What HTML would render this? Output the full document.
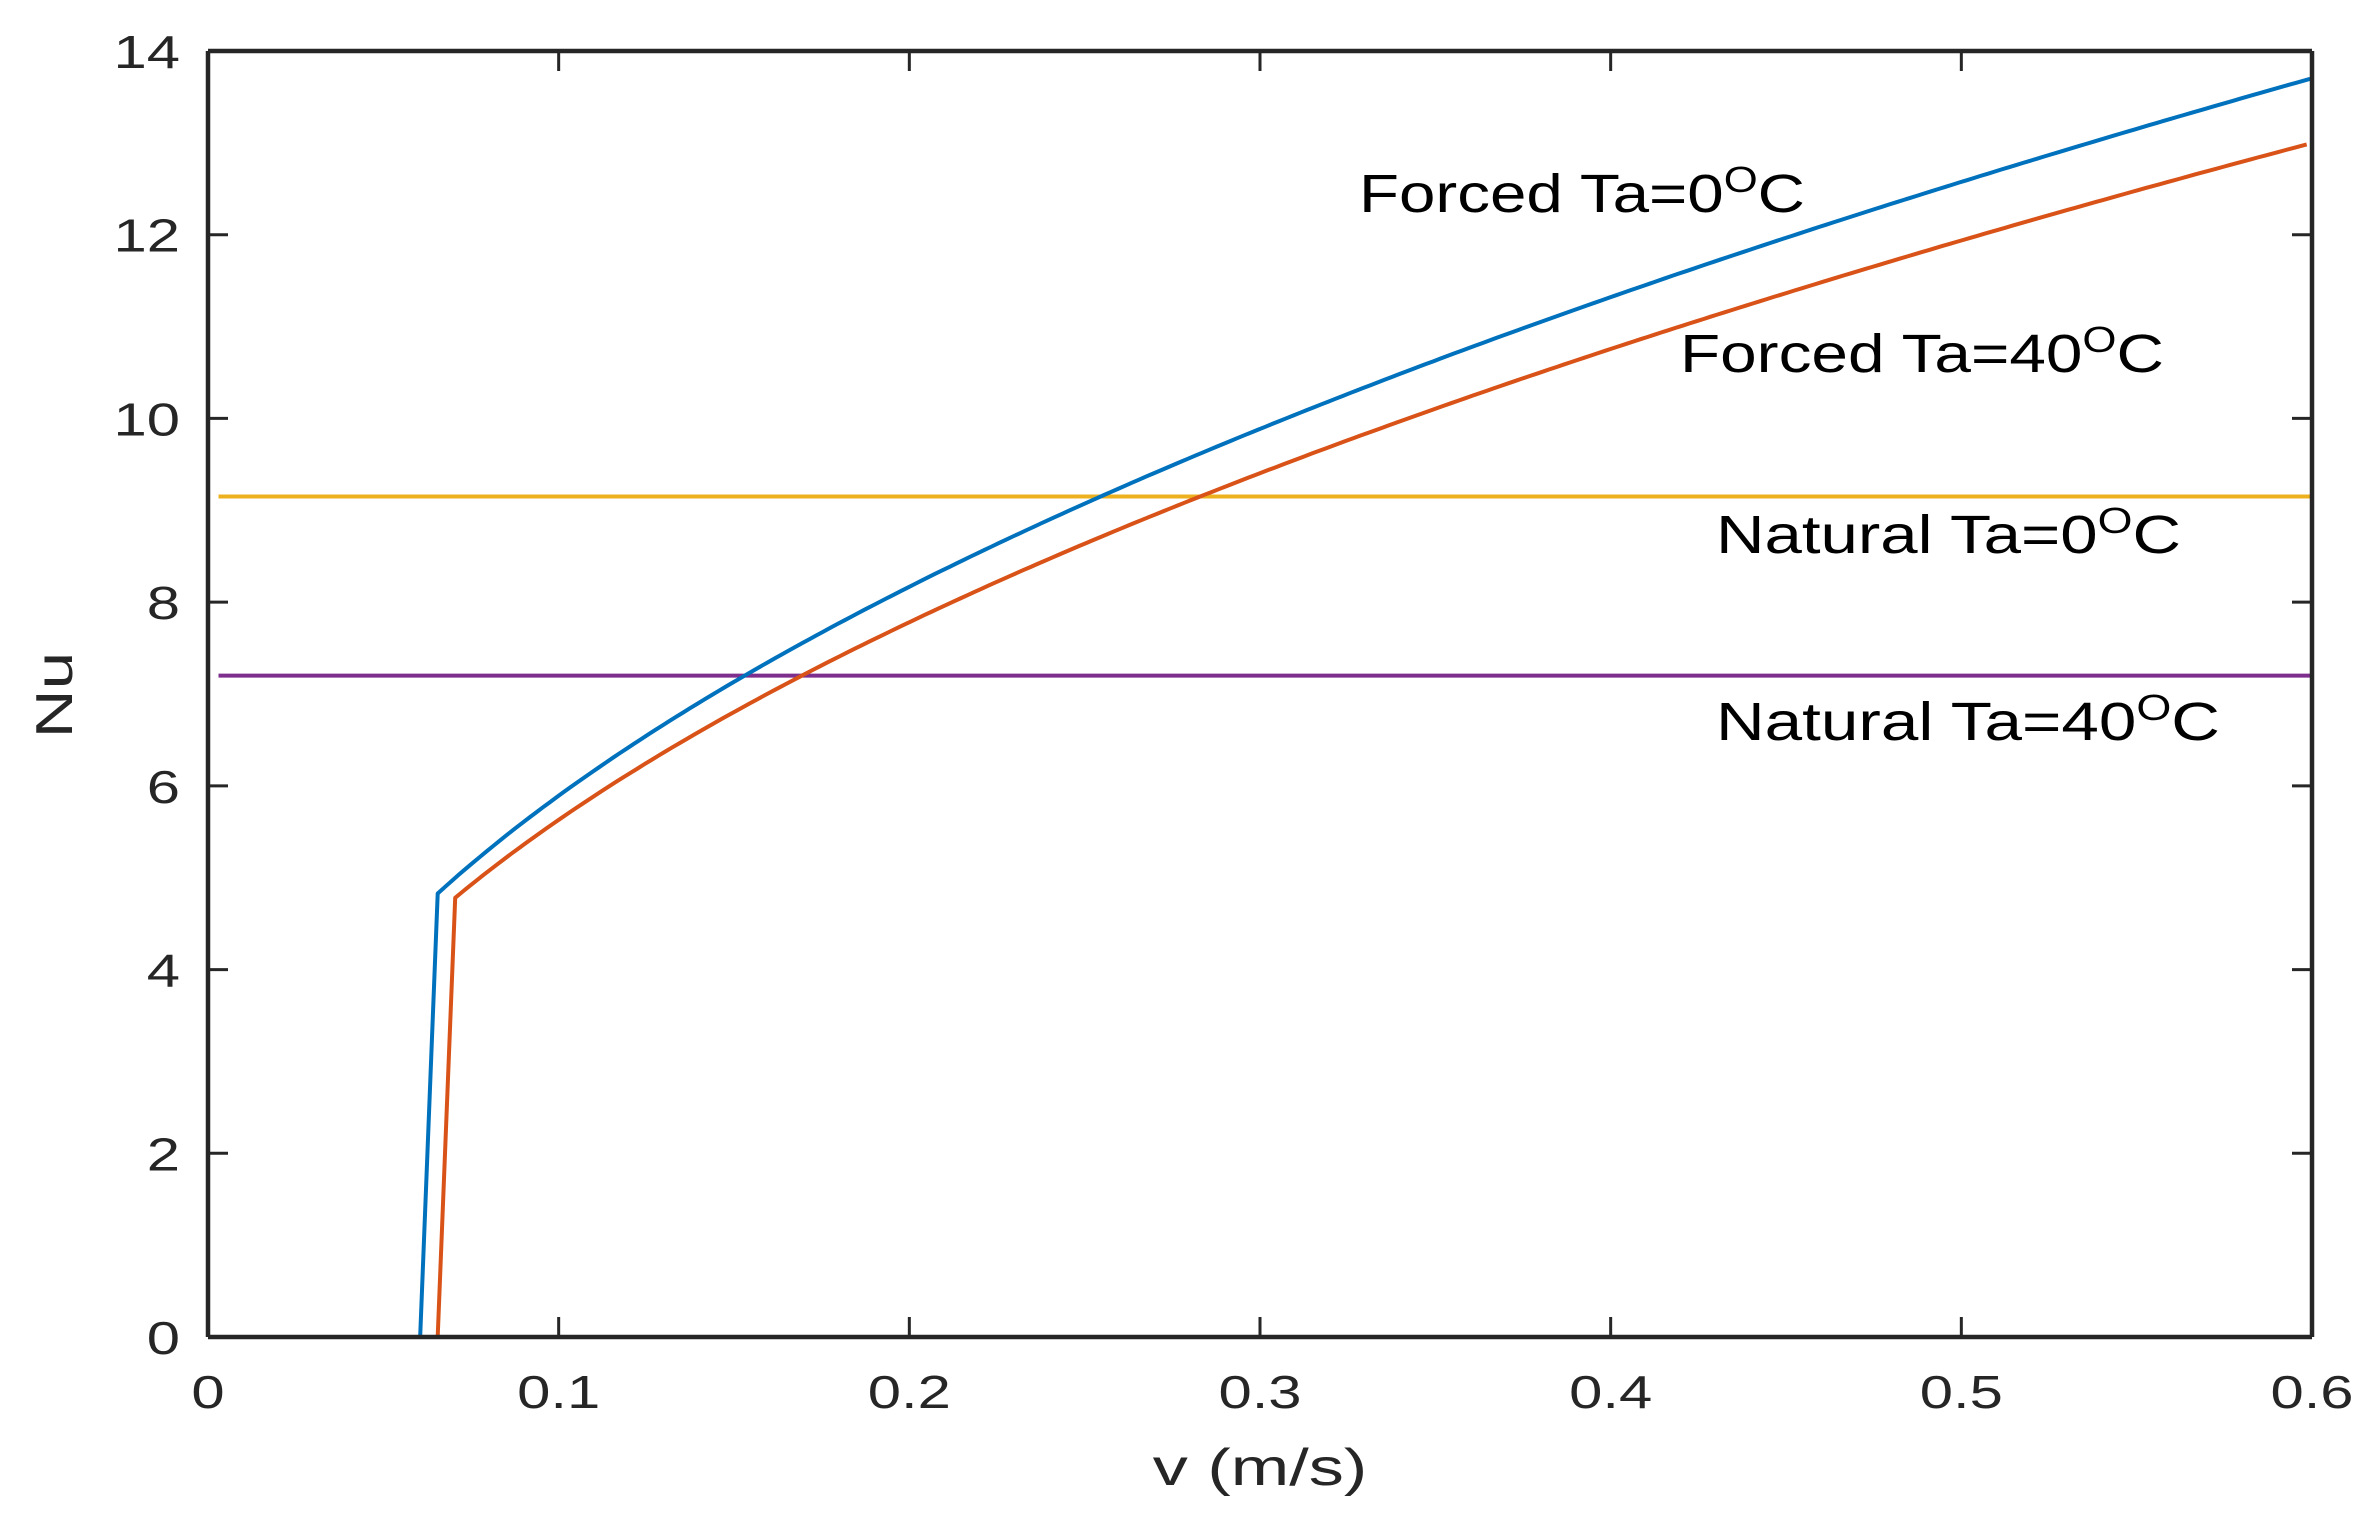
<!DOCTYPE html>
<html><head><meta charset="utf-8"><style>html,body{margin:0;padding:0;background:#fff}svg{display:block}</style></head>
<body>
<svg width="2370" height="1528" viewBox="0 0 2370 1528" xmlns="http://www.w3.org/2000/svg">
<rect width="2370" height="1528" fill="#fff"/>
<g id="curves" fill="none" stroke-width="4" stroke-linejoin="round"></g>
<line x1="208" y1="1337" x2="2312" y2="1337" stroke="#262626" stroke-width="4.5"/>
<line x1="208" y1="51" x2="208" y2="1337" stroke="#262626" stroke-width="4.5"/>
<line x1="208" y1="51" x2="2312" y2="51" stroke="#262626" stroke-width="4.5"/>
<line x1="2312" y1="51" x2="2312" y2="1337" stroke="#262626" stroke-width="4.5"/>
<g id="ticks" stroke="#262626" stroke-width="3"></g>
<g id="labels" font-family="Liberation Sans, sans-serif" font-size="46" fill="#262626"></g>
<text transform="translate(1260,1485) scale(1.35,1)" font-family="Liberation Sans, sans-serif" font-size="52" fill="#262626" text-anchor="middle">v (m/s)</text>
<text transform="translate(72,695) rotate(-90) scale(1.3,1)" font-family="Liberation Sans, sans-serif" font-size="52" fill="#262626" text-anchor="middle">Nu</text>
<g font-family="Liberation Sans, DejaVu Sans, sans-serif" font-size="54" fill="#000">
<text x="1359" y="212" textLength="446" lengthAdjust="spacingAndGlyphs">Forced Ta=0<tspan font-size="36" dy="-20">O</tspan><tspan dy="20">C</tspan></text>
<text x="1680" y="372" textLength="484" lengthAdjust="spacingAndGlyphs">Forced Ta=40<tspan font-size="36" dy="-20">O</tspan><tspan dy="20">C</tspan></text>
<text x="1716" y="553" textLength="465" lengthAdjust="spacingAndGlyphs">Natural Ta=0<tspan font-size="36" dy="-20">O</tspan><tspan dy="20">C</tspan></text>
<text x="1716" y="740" textLength="504" lengthAdjust="spacingAndGlyphs">Natural Ta=40<tspan font-size="36" dy="-20">O</tspan><tspan dy="20">C</tspan></text>
</g>
<script>
var L=208,R=2312,T=51,B=1337,U=(B-T)/14;
function X(v){return L+(R-L)*v/0.6}
function Y(n){return B-n*U}
var ns="http://www.w3.org/2000/svg";
function path(d,c,p){var e=document.createElementNS(ns,"path");e.setAttribute("d",d);e.setAttribute("stroke",c);p.appendChild(e);}
var g=document.getElementById("curves");
path("M"+X(0.003)+" "+Y(9.15)+"H"+X(0.6),"#EDB120",g);
path("M"+X(0.003)+" "+Y(7.2)+"H"+X(0.6),"#7E2F8E",g);
function forced(v0,v1,a,n,c){
 var d="M"+X(0.003)+" "+B+"L"+X(v0)+" "+B;
 for(var v=v1;v<=0.6001;v+=0.002){d+="L"+X(v).toFixed(1)+" "+Y(a*Math.pow(v,n)).toFixed(1);}
 path(d,c,g);
}
forced(0.0655,0.0705,16.5,0.467,"#D95319");
forced(0.0605,0.0655,17.43,0.471,"#0072BD");
var tk=document.getElementById("ticks"),lb=document.getElementById("labels");
function line(x1,y1,x2,y2){var e=document.createElementNS(ns,"line");e.setAttribute("x1",x1);e.setAttribute("y1",y1);e.setAttribute("x2",x2);e.setAttribute("y2",y2);tk.appendChild(e);}
function txt(x,y,s,a){var e=document.createElementNS(ns,"text");e.setAttribute("transform","translate("+x+","+y+") scale(1.3,1)");e.setAttribute("text-anchor",a);e.textContent=s;lb.appendChild(e);}
for(var i=0;i<=14;i+=2){var y=Y(i);line(L,y,L+20,y);line(R,y,R-20,y);txt(180,y+17,String(i),"end");}
for(var j=0;j<=6;j++){var x=X(j/10);line(x,B,x,B-20);line(x,T,x,T+20);txt(x,1408,j==0?"0":"0."+j,"middle");}
</script>
</svg>
</body></html>
